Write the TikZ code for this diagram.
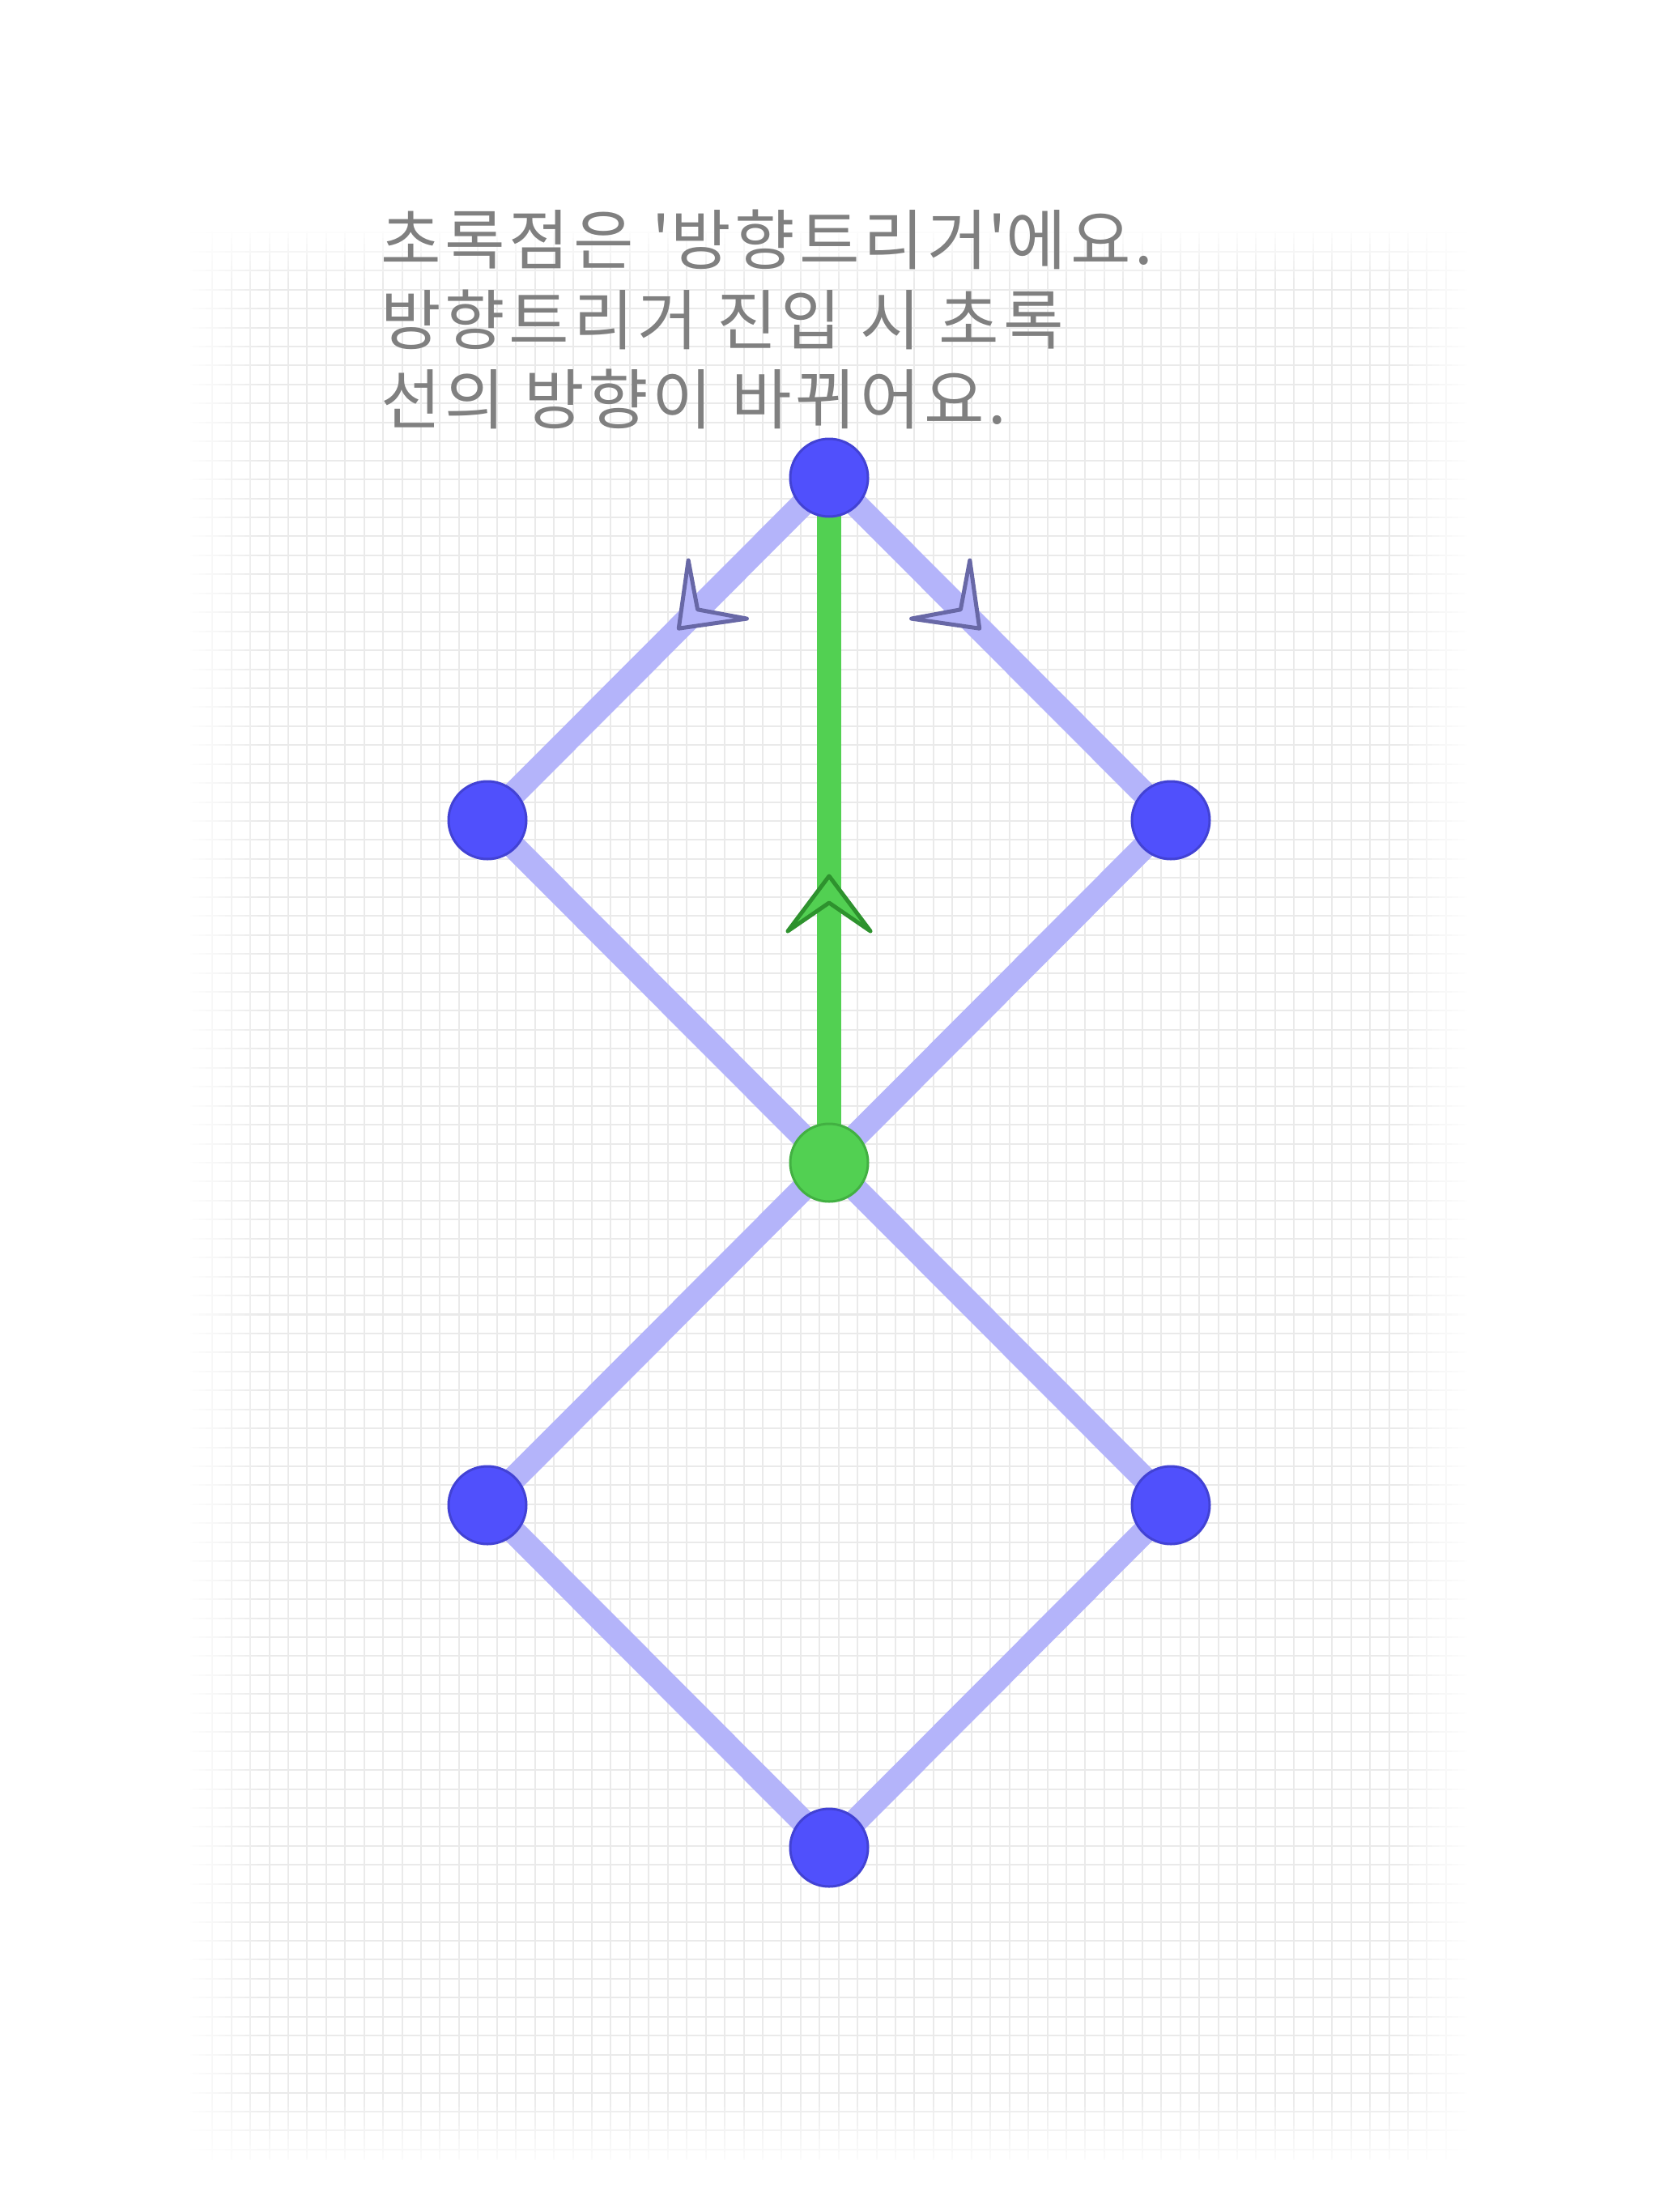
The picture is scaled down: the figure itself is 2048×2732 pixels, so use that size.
\documentclass[tikz,border=0pt]{standalone}
\usepackage{fontspec}
\newfontfamily\kr[LetterSpace=6]{Noto Sans CJK KR}
\usetikzlibrary{decorations.markings}
\definecolor{nodeblue}{RGB}{80,80,252}
\definecolor{nodeblueedge}{RGB}{66,66,212}
\definecolor{lineblue}{RGB}{180,180,250}
\definecolor{linegreen}{RGB}{82,208,82}
\definecolor{nodegreenedge}{RGB}{66,176,66}
\definecolor{arrowblueedge}{RGB}{104,104,166}
\definecolor{arrowgreenedge}{RGB}{46,146,46}
\definecolor{gridgray}{RGB}{234,234,234}
\definecolor{textgray}{RGB}{128,128,128}
\pgfdeclarelayer{gridlayer}
\pgfdeclarelayer{edgelayer}
\pgfsetlayers{gridlayer,edgelayer,main}
\begin{document}
\begin{tikzpicture}[x=1pt,y=-1pt,
  gridline/.style={draw=gridgray, line width=2},
  bnode/.style={circle, fill=nodeblue, draw=nodeblueedge, line width=3, minimum size=96, inner sep=0},
  gnode/.style={circle, fill=linegreen, draw=nodegreenedge, line width=3, minimum size=96, inner sep=0},
  bline/.style={draw=lineblue, line width=30},
  gline/.style={draw=linegreen, line width=30},
  barrow/.style={fill=lineblue, draw=arrowblueedge, line width=5, line join=round},
  garrow/.style={fill=linegreen, draw=arrowgreenedge, line width=5, line join=round},
  txt/.style={font=\kr\fontsize{81}{99}\selectfont, text=textgray, inner sep=0, anchor=base west}
]
\useasboundingbox (0,0) rectangle (2048,2732);

% nodes
\node[bnode] (top) at (1024,590) {};
\node[bnode] (left) at (602,1013) {};
\node[bnode] (right) at (1446,1013) {};
\node[gnode] (mid) at (1024,1436) {};
\node[bnode] (lowleft) at (602,1859) {};
\node[bnode] (lowright) at (1446,1859) {};
\node[bnode] (bottom) at (1024,2282) {};

\begin{pgfonlayer}{gridlayer}
\fill[white] (0,0) rectangle (2048,2732);
\foreach \i in {0,...,65} \draw[gridline] ({262.2+23.44*\i},285) -- ({262.2+23.44*\i},2668);
\foreach \j in {0,...,101} \draw[gridline] (235,{287.4+23.44*\j}) -- (1812,{287.4+23.44*\j});
% edge fades
\foreach \k [evaluate=\k as \op using {1-(\k+0.5)/12}] in {0,...,11} {
  \fill[white, opacity=\op] ({230+8*\k},270) rectangle ({238+8*\k},2700);
  \fill[white, opacity=\op] ({1817-8*\k},270) rectangle ({1809-8*\k},2700);
}
\foreach \k [evaluate=\k as \op using {1-(\k+0.5)/10}] in {0,...,9} {
  \fill[white, opacity=\op] (220,{280+7*\k}) rectangle (1830,{287+7*\k});
}
\foreach \k [evaluate=\k as \op using {1-(\k+0.5)/12}] in {0,...,11} {
  \fill[white, opacity=\op] (220,{2682-8*\k}) rectangle (1830,{2674-8*\k});
}
\end{pgfonlayer}

\begin{pgfonlayer}{edgelayer}
\draw[bline, postaction={decorate}, decoration={markings,
   mark=at position 263pt with {\filldraw[barrow] (0,0) -- (-68,51) -- (-33,0) -- (-68,-51) -- cycle;}}]
   (top.center) -- (left.center);
\draw[bline, postaction={decorate}, decoration={markings,
   mark=at position 263pt with {\filldraw[barrow] (0,0) -- (-68,51) -- (-33,0) -- (-68,-51) -- cycle;}}]
   (top.center) -- (right.center);
\draw[bline] (left.center) -- (mid.center);
\draw[bline] (right.center) -- (mid.center);
\draw[bline] (mid.center) -- (lowleft.center);
\draw[bline] (mid.center) -- (lowright.center);
\draw[bline] (lowleft.center) -- (bottom.center);
\draw[bline] (lowright.center) -- (bottom.center);
\draw[gline, postaction={decorate}, decoration={markings,
   mark=at position 354pt with {\filldraw[garrow] (0,0) -- (-68,51) -- (-33,0) -- (-68,-51) -- cycle;}}]
   (mid.center) -- (top.center);
\end{pgfonlayer}

% text
\node[txt] (t1) at (470,326) {초록점은 \textquotesingle 방향트리거\textquotesingle 에요.};
\node[txt] (t2) at (470,425) {방향트리거 진입 시 초록};
\node[txt] (t3) at (470,523) {선의 방향이 바뀌어요.};
\end{tikzpicture}
\end{document}
